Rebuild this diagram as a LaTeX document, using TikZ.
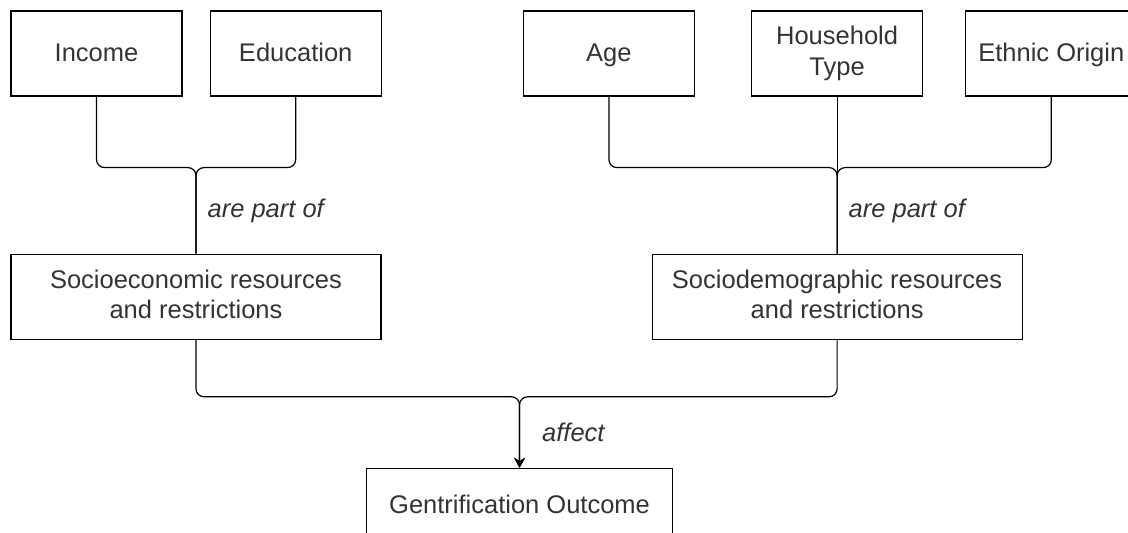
\documentclass[tikz,border=0pt]{standalone}
\usepackage{fontspec}
\setmainfont{Liberation Sans}
\usepackage{tikz}
\usetikzlibrary{positioning,calc,arrows.meta}
\definecolor{mygray}{RGB}{51,51,51}
\newcommand\boxstrut{\rule[-2.6pt]{0pt}{13.6pt}}

\begin{document}
\begin{tikzpicture}[node distance=13.5pt, auto,
  factor/.style={rectangle, draw=black, line width=0.6pt, text=mygray, minimum width=85.5pt, minimum height=42.5pt, align=center, inner sep=2pt, font=\fontsize{12.75}{15.3}\selectfont, execute at begin node=\boxstrut, execute at end node=\boxstrut},
  group/.style={factor, minimum width=185pt},
  link/.style={draw=black, line width=0.6pt, rounded corners=4pt},
  arrow/.style={link, -{Stealth[length=5pt, width=5.5pt]}},
  verb/.style={font=\fontsize{12.75}{15.3}\selectfont\itshape, text=mygray, inner sep=0pt}]

\useasboundingbox (0,0) rectangle (564pt,-266.5pt);

\node[factor] (income) at (48.25pt,-26.75pt) {Income};
\node[factor, right=of income] (education) {Education};
\node[factor, right=70.5pt of education] (age) {Age};
\node[factor, right=28pt of age] (household) {Household\\Type};
\node[factor, right=21pt of household] (ethnic) {Ethnic Origin};
\node[group, below=78.5pt of income.south west, anchor=north west] (socioeco) {Socioeconomic resources\\and restrictions};
\node[group, below=78.5pt of household] (sociodemo) {Sociodemographic resources\\and restrictions};
\node[factor, minimum width=153pt, minimum height=37pt, below=64pt of {$(socioeco.south)!0.5!(sociodemo.south)$}, xshift=1.5pt] (outcome) {Gentrification Outcome};

\coordinate (splitA) at ($(socioeco.north)+(0,43pt)$);
\coordinate (splitB) at ($(sociodemo.north)+(0,43pt)$);
\coordinate (merge) at ($(outcome.north)+(0,35.5pt)$);

\draw[link] (income.south) |- (splitA) -- node[verb, right=5.5pt] {are part of} (socioeco.north);
\draw[link] (education.south) |- (splitA) -- (socioeco.north);
\draw[link] (age.south) |- (splitB) -- node[verb, right=5.5pt] {are part of} (sociodemo.north);
\draw[link] (household.south) -- (sociodemo.north);
\draw[link] (ethnic.south) |- (splitB) -- (sociodemo.north);
\draw[arrow] (socioeco.south) |- (merge) -- node[verb, right=11pt] {affect} (outcome.north);
\draw[arrow] (sociodemo.south) |- (merge) -- (outcome.north);
\end{tikzpicture}
\end{document}
